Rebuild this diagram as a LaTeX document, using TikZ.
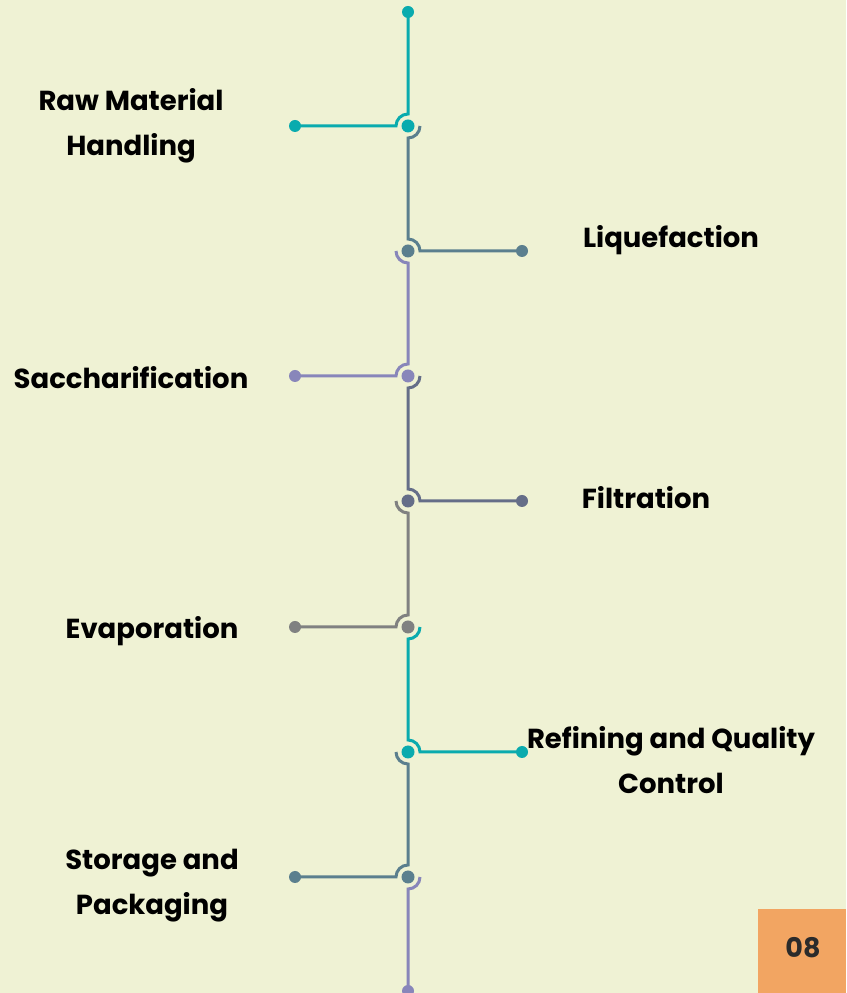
\documentclass[tikz,border=0pt]{standalone}
\usepackage{fontspec}
\setmainfont{Poppins}
\usetikzlibrary{calc}
\definecolor{bg}{HTML}{EFF2D4}
\definecolor{cTeal}{HTML}{0AABAE}
\definecolor{cGB}{HTML}{5B7F8E}
\definecolor{cLav}{HTML}{8886BA}
\definecolor{cSlate}{HTML}{656E88}
\definecolor{cGray}{HTML}{808181}
\definecolor{cOrange}{HTML}{F2A562}
\definecolor{cNum}{HTML}{2B2B2B}
\tikzset{
  link/.style={line width=3pt},
  dotn/.style={circle, fill=#1, inner sep=0pt, minimum size=13pt},
  dote/.style={circle, fill=#1, inner sep=0pt, minimum size=12pt},
  lbl/.style={align=center, font=\fontsize{27.5}{45}\selectfont\bfseries, text=black, inner sep=0pt},
}
\begin{document}
\begin{tikzpicture}[x=1pt,y=1pt]
\useasboundingbox (0,0) rectangle (846,993);
\fill[bg] (0,0) rectangle (846,993);
% spine coordinates
\coordinate (top) at (408,981);
\coordinate (n1) at (408,867);
\coordinate (n2) at (408,742);
\coordinate (n3) at (408,617);
\coordinate (n4) at (408,492);
\coordinate (n5) at (408,366);
\coordinate (n6) at (408,241);
\coordinate (n7) at (408,116);
\coordinate (bot) at (408,2);
% branch ends
\coordinate (e1) at (295,867);
\coordinate (e2) at (522,742);
\coordinate (e3) at (295,617);
\coordinate (e4) at (522,492);
\coordinate (e5) at (295,366);
\coordinate (e6) at (522,241);
\coordinate (e7) at (295,116);
% segments
\draw[link,cTeal] (top) -- ($(n1)+(0,12)$) arc[start angle=90,end angle=180,radius=12pt] -- (e1);
\draw[link,cGB] ($(n1)+(12,0)$) arc[start angle=0,end angle=-90,radius=12pt] -- ($(n2)+(0,12)$) arc[start angle=90,end angle=0,radius=12pt] -- (e2);
\draw[link,cLav] ($(n2)+(-12,0)$) arc[start angle=180,end angle=270,radius=12pt] -- ($(n3)+(0,12)$) arc[start angle=90,end angle=180,radius=12pt] -- (e3);
\draw[link,cSlate] ($(n3)+(12,0)$) arc[start angle=0,end angle=-90,radius=12pt] -- ($(n4)+(0,12)$) arc[start angle=90,end angle=0,radius=12pt] -- (e4);
\draw[link,cGray] ($(n4)+(-12,0)$) arc[start angle=180,end angle=270,radius=12pt] -- ($(n5)+(0,12)$) arc[start angle=90,end angle=180,radius=12pt] -- (e5);
\draw[link,cTeal] ($(n5)+(12,0)$) arc[start angle=0,end angle=-90,radius=12pt] -- ($(n6)+(0,12)$) arc[start angle=90,end angle=0,radius=12pt] -- (e6);
\draw[link,cGB] ($(n6)+(-12,0)$) arc[start angle=180,end angle=270,radius=12pt] -- ($(n7)+(0,12)$) arc[start angle=90,end angle=180,radius=12pt] -- (e7);
\draw[link,cLav] ($(n7)+(12,0)$) arc[start angle=0,end angle=-90,radius=12pt] -- (bot);
% dots
\node[dote=cTeal] (dtop) at (top) {};
\node[dotn=cTeal] (d1) at (n1) {};
\node[dote=cTeal] (de1) at (e1) {};
\node[dotn=cGB] (d2) at (n2) {};
\node[dote=cGB] (de2) at (e2) {};
\node[dotn=cLav] (d3) at (n3) {};
\node[dote=cLav] (de3) at (e3) {};
\node[dotn=cSlate] (d4) at (n4) {};
\node[dote=cSlate] (de4) at (e4) {};
\node[dotn=cGray] (d5) at (n5) {};
\node[dote=cGray] (de5) at (e5) {};
\node[dotn=cTeal] (d6) at (n6) {};
\node[dote=cTeal] (de6) at (e6) {};
\node[dotn=cGB] (d7) at (n7) {};
\node[dote=cGB] (de7) at (e7) {};
\node[dote=cLav] (dbot) at (bot) {};
% labels
\node[lbl] (l1) at (131,867.5) {Raw Material\\Handling};
\node[lbl] (l2) at (671,752.5) {Liquefaction};
\node[lbl] (l3) at (131,615) {Saccharification};
\node[lbl] (l4) at (646,495) {Filtration};
\node[lbl] (l5) at (152,361.5) {Evaporation};
\node[lbl] (l6) at (671,233) {Refining and Quality\\Control};
\node[lbl] (l7) at (152,107) {Storage and\\Packaging};
% page number
\node[fill=cOrange, minimum width=88pt, minimum height=84pt, inner sep=0pt, anchor=south east] (pg) at (846,0) {};
\node[font=\fontsize{27}{30}\selectfont\bfseries, text=cNum] (pgnum) at (803,45) {08};
\end{tikzpicture}
\end{document}
